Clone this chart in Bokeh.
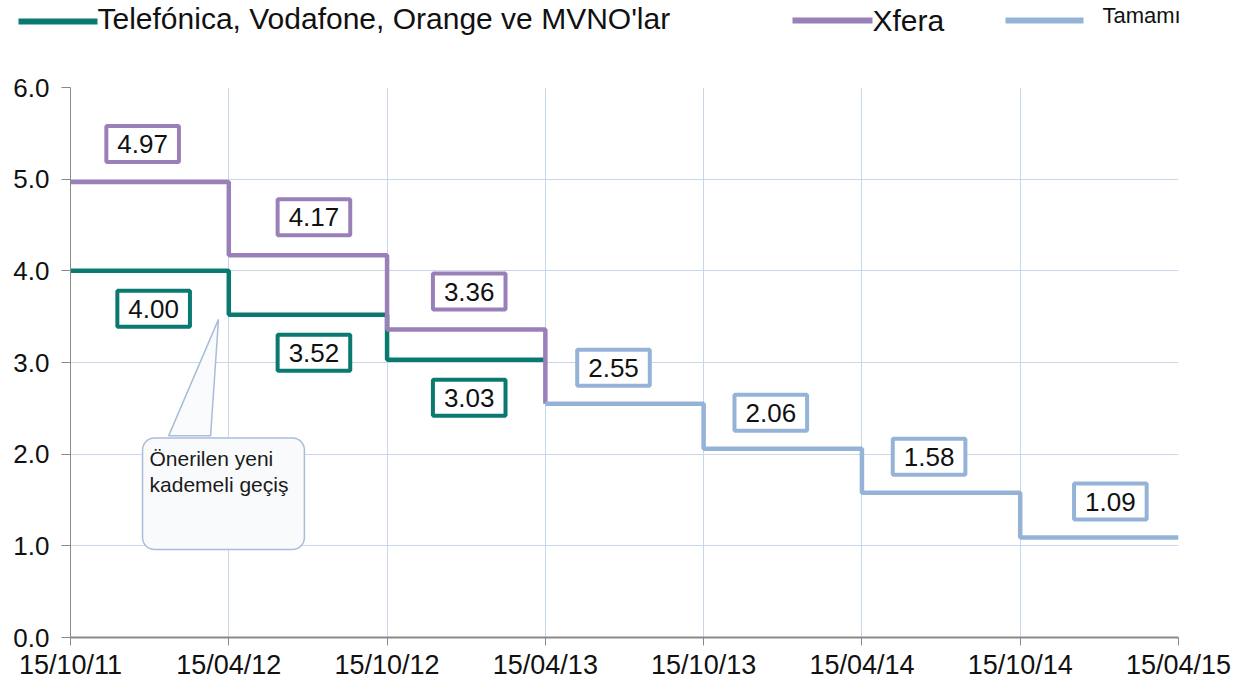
from bokeh.plotting import figure
from bokeh.models import Range1d, FixedTicker, Label, NumeralTickFormatter
from bokeh.layouts import column
from bokeh.embed import file_html
from bokeh.resources import INLINE
from bokeh.core.properties import value

# ---------------- data ----------------
dates = ["15/10/11", "15/04/12", "15/10/12", "15/04/13",
         "15/10/13", "15/04/14", "15/10/14", "15/04/15"]
teal_name = "Telefónica, Vodafone, Orange ve MVNO'lar"
purple_name = "Xfera"
blue_name = "Tamamı"
teal_vals = [4.00, 3.52, 3.03]          # periods 0..2
purple_vals = [4.97, 4.17, 3.36]        # periods 0..2
blue_vals = [2.55, 2.06, 1.58, 1.09]    # periods 3..6
callout_text = "Önerilen yeni\nkademeli geçiş"

TEAL = "#0a7a70"
PURPLE = "#9a80b8"
BLUE = "#95b3d7"
GRID = "#c9d7ea"
FONT = "Liberation Sans"

W = 1231
LEG_H = 72
MAIN_H = 610

# ---------------- legend strip ----------------
leg = figure(width=W, height=LEG_H, output_backend="svg", toolbar_location=None,
             x_range=Range1d(0, W), y_range=Range1d(LEG_H, 0),
             x_axis_location=None, y_axis_location=None,
             min_border=0, outline_line_color=None)
leg.frame_align = False
leg.grid.visible = False
leg.segment(x0=[18, 792, 1005], y0=[21, 20, 20], x1=[97, 872, 1083], y1=[21, 20, 20],
            line_color=[TEAL, PURPLE, BLUE], line_width=6)
leg.text(x=[97], y=[18], text=[teal_name], text_font=value(FONT),
         text_font_size="30px", text_baseline="alphabetic", text_color="#111111")
leg.text(x=[872], y=[20], text=[purple_name], text_font=value(FONT),
         text_font_size="30px", text_baseline="alphabetic", text_color="#111111")
leg.text(x=[1102], y=[15], text=[blue_name], text_font=value(FONT),
         text_font_size="22px", text_baseline="alphabetic", text_color="#111111")

# ---------------- main chart ----------------
p = figure(width=W, height=MAIN_H, output_backend="svg", toolbar_location=None,
           x_range=Range1d(0, len(dates) - 1), y_range=Range1d(0, 6),
           min_border_left=70, min_border_right=53, min_border_top=15,
           min_border_bottom=38, outline_line_color=None)
p.frame_align = False

p.xaxis.ticker = FixedTicker(ticks=list(range(len(dates))))
p.xaxis.major_label_overrides = {i: d for i, d in enumerate(dates)}
p.yaxis.ticker = FixedTicker(ticks=[0, 1, 2, 3, 4, 5, 6])
p.yaxis.formatter = NumeralTickFormatter(format="0.0")
for ax in (p.xaxis, p.yaxis):
    ax.major_label_text_font = FONT
    ax.major_label_text_color = "#111111"
    ax.axis_line_color = "#8a8a8a"
    ax.major_tick_line_color = "#8a8a8a"
    ax.major_tick_in = 0
    ax.minor_tick_line_color = None
p.xaxis.major_label_text_font_size = "27px"
p.yaxis.major_label_text_font_size = "26px"
p.xaxis.axis_line_width = 2
p.xaxis.major_tick_out = 8
p.yaxis.major_tick_out = 9
p.xaxis.major_label_standoff = 4
p.yaxis.major_label_standoff = 12
p.xgrid.ticker = FixedTicker(ticks=list(range(len(dates))))
p.grid.grid_line_color = GRID
p.grid.grid_line_width = 1

# step lines (value holds after each date)
tx = list(range(len(teal_vals))) + [len(teal_vals)]
ty = teal_vals + [teal_vals[-1]]
px = list(range(len(purple_vals))) + [len(purple_vals)]
py = purple_vals + [blue_vals[0]]
bx = [len(purple_vals) + i for i in range(len(blue_vals) + 1)]
by = blue_vals + [blue_vals[-1]]
p.step(tx, ty, mode="after", line_color=TEAL, line_width=4.5)
p.step(px, py, mode="after", line_color=PURPLE, line_width=4.5)
p.step(bx, by, mode="after", line_color=BLUE, line_width=4.5)

# value boxes
def box(xv, yv, txt, color, dy, dx=0):
    p.add_layout(Label(x=xv, y=yv, text=txt, x_offset=dx, y_offset=dy,
                       anchor="center", text_font=FONT, text_font_size="26px",
                       text_color="#111111", background_fill_color="white",
                       border_line_color=color, border_line_width=4,
                       padding=dict(left=11, right=11, top=9, bottom=9)))

purple_dx = [-7, 6, 3]
teal_dx = [4, 6, 3]
blue_dx = [-11, -12, -12, 11]
for i, v in enumerate(purple_vals):
    box(i + 0.5, v, f"{v:.2f}", PURPLE, 38, purple_dx[i])
for i, v in enumerate(teal_vals):
    box(i + 0.5, v, f"{v:.2f}", TEAL, -38, teal_dx[i])
for i, v in enumerate(blue_vals):
    box(len(purple_vals) + i + 0.5, v, f"{v:.2f}", BLUE, 36, blue_dx[i])

# callout pointing at the first transition of the teal series
tip_x, tip_y = 1, teal_vals[1]
p.patch(x=[tip_x - 0.38, tip_x - 0.115, tip_x - 0.065], y=[2.2, 2.2, tip_y - 0.05],
        fill_color="#fafbfc", line_color="#a9bdd8", line_width=1.5)
cx, cy = 0.455, 2.176
pad = dict(left=7, right=16, top=9, bottom=53)
p.add_layout(Label(x=cx, y=cy, x_offset=5, y_offset=-6, text=callout_text,
                   anchor="top_left", text_font=FONT, text_font_size="21px",
                   text_line_height=1.15, text_alpha=0,
                   background_fill_color="#9a9a9a", background_fill_alpha=0.35,
                   border_radius=12, padding=pad))
p.add_layout(Label(x=cx, y=cy, text=callout_text, anchor="top_left",
                   text_font=FONT, text_font_size="21px", text_color="#1a1a1a",
                   text_line_height=1.15,
                   background_fill_color="#f9fafb", border_line_color="#a9bdd8",
                   border_line_width=1.5, border_radius=12, padding=pad))

layout = column(leg, p, spacing=0)
open("out.html", "w").write(file_html(layout, INLINE))
